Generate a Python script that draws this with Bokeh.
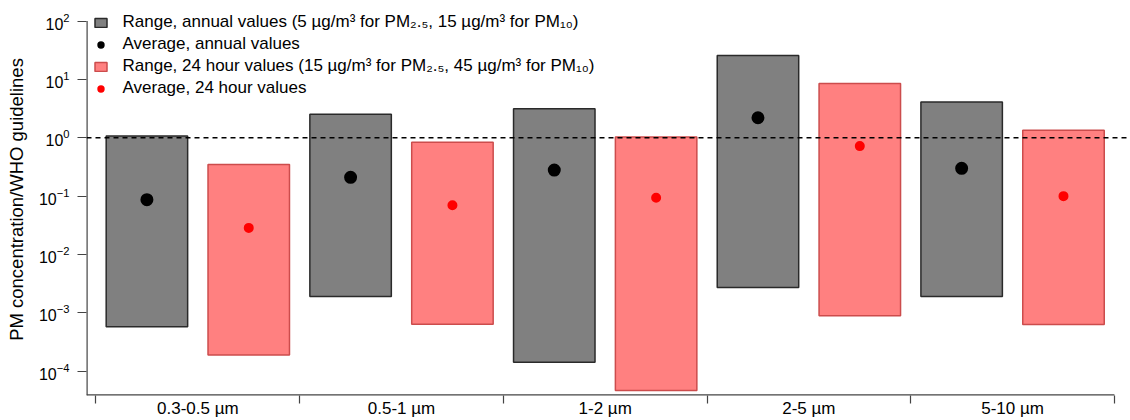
import math
from bokeh.plotting import figure
from bokeh.models import (Span, FixedTicker, LogTickFormatter, Legend, LegendItem)
from bokeh.embed import file_html
from bokeh.resources import INLINE

# ---- data ----
categories = ["0.3-0.5 µm", "0.5-1 µm", "1-2 µm", "2-5 µm", "5-10 µm"]
annual_low = [5.8e-4, 1.9e-3, 1.43e-4, 2.73e-3, 1.9e-3]
annual_high = [1.07, 2.54, 3.13, 25.6, 4.08]
annual_avg = [0.087, 0.21, 0.28, 2.2, 0.30]
daily_low = [1.9e-4, 6.4e-4, 4.7e-5, 8.95e-4, 6.3e-4]
daily_high = [0.35, 0.84, 1.03, 8.5, 1.35]
daily_avg = [0.0286, 0.070, 0.094, 0.72, 0.10]
who_guideline = 1.0
y_tick_values = [1e-4, 1e-3, 1e-2, 1e-1, 1e0, 1e1, 1e2]

legend_labels = [
    "Range, annual values (5 µg/m³ for PM₂.₅, 15 µg/m³ for PM₁₀)",
    "Average, annual values",
    "Range, 24 hour values (15 µg/m³ for PM₂.₅, 45 µg/m³ for PM₁₀)",
    "Average, 24 hour values",
]
y_label = "PM concentration/WHO guidelines"

# ---- layout ----
FONT = "Liberation Sans"
n = len(categories)
x_start, x_end = -0.0466, 5.079
y_start, y_end = 10 ** -4.415, 10 ** 2.30
y_axis_top = 100.0

x_annual = [i + 0.25 for i in range(n)]
x_daily = [i + 0.75 for i in range(n)]
centers = [i + 0.5 for i in range(n)]
bounds = list(range(n + 1))

p = figure(width=1130, height=420, y_axis_type="log",
           x_range=(x_start, x_end), y_range=(y_start, y_end),
           output_backend="svg", toolbar_location=None,
           min_border_left=86, min_border_right=0, min_border_top=3, min_border_bottom=0)
p.outline_line_color = None
p.xgrid.visible = False
p.ygrid.visible = False
p.background_fill_color = "white"

axis_col = "#444444"

# x axis: labels at centres, tick marks at category boundaries
xa = p.xaxis[0]
xa.ticker = FixedTicker(ticks=centers, minor_ticks=bounds)
xa.major_label_overrides = {c: lab for c, lab in zip(centers, categories)}
xa.axis_line_color = None
xa.major_tick_line_color = None
xa.major_tick_out = 0
xa.major_tick_in = 0
xa.minor_tick_out = 8
xa.minor_tick_in = 0
xa.minor_tick_line_color = axis_col
xa.minor_tick_line_width = 1.2
xa.major_label_standoff = -5
xa.major_label_text_line_height = 0.9
xa.major_label_text_font = FONT
xa.major_label_text_font_size = "17px"
xa.major_label_text_color = "black"

# y axis
ya = p.yaxis[0]
ya.ticker = FixedTicker(ticks=y_tick_values)
ya.formatter = LogTickFormatter()
ya.axis_line_color = None
ya.major_tick_line_color = axis_col
ya.major_tick_line_width = 1.2
ya.major_tick_out = 9
ya.major_tick_in = 0
ya.minor_tick_line_color = None
ya.major_label_standoff = 8
ya.major_label_text_font = FONT
ya.major_label_text_font_size = "16px"
ya.major_label_text_color = "black"
ya.axis_label = y_label
ya.axis_label_text_font = FONT
ya.axis_label_text_font_size = "18.5px"
ya.axis_label_text_font_style = "normal"
ya.axis_label_text_color = "black"
ya.axis_label_standoff = 9

# axis lines: bottom one ends at the last category boundary, left one at 10^2
p.segment(x0=[x_start], y0=[y_start], x1=[bounds[-1]], y1=[y_start],
          line_color=axis_col, line_width=2.4)
p.segment(x0=[x_start], y0=[y_start], x1=[x_start], y1=[y_axis_top],
          line_color=axis_col, line_width=2.4)

# WHO guideline
p.add_layout(Span(location=who_guideline, dimension="width", line_color="black",
                  line_dash="5 4", line_width=1.5))

r_annual = p.vbar(x=x_annual, width=0.4, bottom=annual_low, top=annual_high,
                  fill_color="#808080", line_color="#2a2a2a", line_width=1.5)
r_daily = p.vbar(x=x_daily, width=0.4, bottom=daily_low, top=daily_high,
                 fill_color="#ff8080", line_color="#cc4c4c", line_width=1.5)
r_annual_avg = p.scatter(x=x_annual, y=annual_avg, size=10, marker="circle",
                         fill_color="black", line_color="black", line_width=3)
r_daily_avg = p.scatter(x=x_daily, y=daily_avg, size=7, marker="circle",
                        fill_color="#ff0000", line_color="#ff0000", line_width=3)

legend = Legend(items=[
    LegendItem(label=legend_labels[0], renderers=[r_annual]),
    LegendItem(label=legend_labels[1], renderers=[r_annual_avg]),
    LegendItem(label=legend_labels[2], renderers=[r_daily]),
    LegendItem(label=legend_labels[3], renderers=[r_daily_avg]),
], location=(6.5, 297))
legend.background_fill_alpha = 0
legend.border_line_color = None
legend.padding = 0
legend.margin = 0
legend.spacing = 2
legend.glyph_width = 15
legend.glyph_height = 11
legend.label_height = 20
legend.label_standoff = 15
legend.label_text_font = FONT
legend.label_text_font_size = "17px"
legend.label_text_color = "black"
p.add_layout(legend, "center")

open("out.html", "w").write(file_html(p, INLINE))
